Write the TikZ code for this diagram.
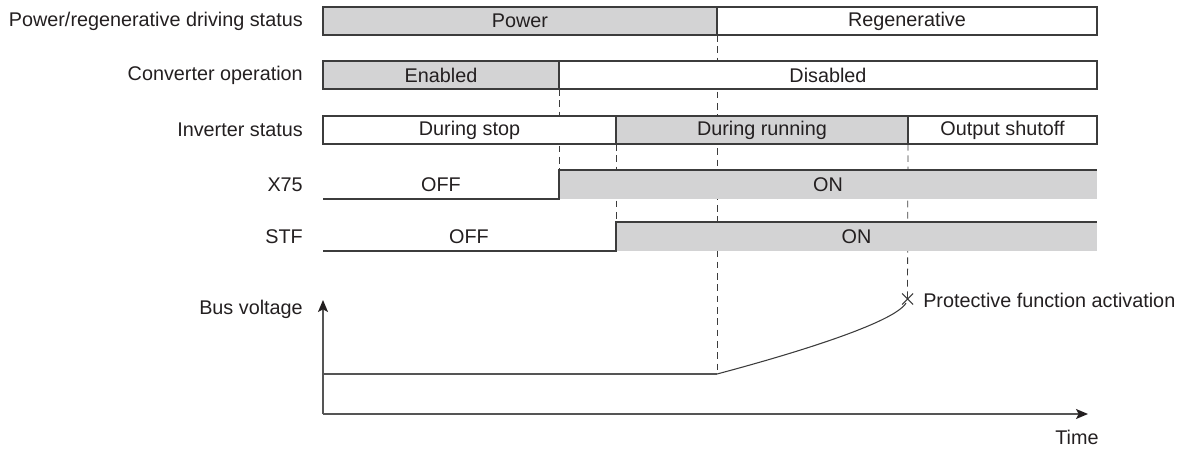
\documentclass[tikz,border=0pt]{standalone}
\usepackage{fontspec}
\setmainfont{Liberation Sans}
\usetikzlibrary{arrows.meta,backgrounds}
\definecolor{gfill}{RGB}{211,211,212}
\definecolor{linec}{RGB}{60,60,60}
\definecolor{txtc}{RGB}{35,31,32}
\definecolor{axc}{RGB}{85,85,85}
\begin{document}
\begin{tikzpicture}[x=0.75pt,y=-0.75pt,
  every node/.style={text=txtc,font=\fontsize{14.85}{17}\selectfont},
  seg/.style={draw=linec,line width=0.9pt,minimum height=21pt,inner sep=0pt,outer sep=0pt,anchor=west},
  sig/.style={fill=gfill,minimum height=21.75pt,inner sep=0pt,outer sep=0pt,anchor=west},
  rowlabel/.style={anchor=east,inner sep=0pt},
  sigline/.style={draw=linec,line width=0.9pt},
  guide/.style={draw=linec,line width=0.6pt,dash pattern=on 5pt off 3.5pt},
  axis/.style={draw=axc,line width=1pt,-{Stealth[length=9pt,width=7.5pt,inset=2pt,color=txtc,fill=txtc]}}]
\useasboundingbox (0,0) rectangle (1190,449);
% row labels
\node[rowlabel] (l1) at (303,21) {Power/regenerative driving status};
\node[rowlabel] (l2) at (303,75) {Converter operation};
\node[rowlabel] (l3) at (303,130) {Inverter status};
\node[rowlabel] (l4) at (303,185) {X75};
\node[rowlabel] (l5) at (303,237) {STF};
\node[rowlabel] (l6) at (303,309) {Bus voltage};
% row 1
\node[seg,fill=gfill,minimum width=394*0.75pt] (pow) at (323,21) {Power};
\node[seg,fill=white,minimum width=380*0.75pt] (reg) at (717,21) {Regenerative};
% row 2
\node[seg,fill=gfill,minimum width=236*0.75pt] (en) at (323,75) {Enabled};
\node[seg,fill=white,minimum width=538*0.75pt] (dis) at (559,75) {Disabled};
% row 3
\node[seg,fill=white,minimum width=293*0.75pt] (stop) at (323,130) {During stop};
\node[seg,fill=gfill,minimum width=292*0.75pt] (run) at (616,130) {During running};
\node[seg,fill=white,minimum width=189*0.75pt] (shut) at (908,130) {Output shutoff};
% X75
\coordinate (x75s) at (323,199);
\node[sig,minimum width=538*0.75pt] (x75on) at (559,184.5) {ON};
\node (x75off) at (441,185) {OFF};
\draw[sigline] (x75s) -- (x75on.south west) -- (x75on.north west) -- (x75on.north east);
% STF
\coordinate (stfs) at (323,251);
\node[sig,minimum width=481*0.75pt] (stfon) at (616,236.5) {ON};
\node (stfoff) at (469,237) {OFF};
\draw[sigline] (stfs) -- (stfon.south west) -- (stfon.north west) -- (stfon.north east);
% bus voltage
\coordinate (org) at (323,414);
\coordinate (ytip) at (323,300);
\coordinate (xtip) at (1088,414);
\coordinate (b0) at (323,374);
\coordinate (b1) at (717,374);
\coordinate (b2) at (906,303);
\coordinate (px) at (907.5,299);
\draw[axis] (org) -- (ytip);
\draw[axis] (org) -- (xtip);
\draw[draw=axc,line width=0.9pt] (b0) -- (b1);
\draw[draw=linec,line width=0.8pt] (b1) .. controls (800,352) and (895,322) .. (b2);
\draw[draw=linec,line width=0.8pt] (px) +(-5.5,-5.5) -- +(5.5,5.5) (px) +(-5.5,5.5) -- +(5.5,-5.5);
\node[anchor=west,inner sep=0pt] (prot) at (923,300) {Protective function activation};
\node (time) at (1077,437) {Time};
% guide lines
\begin{pgfonlayer}{background}
\draw[guide] (pow.south east) -- (b1);
\draw[guide] (en.south east) -- (x75on.north west);
\draw[guide] (stop.south east) -- (stfon.north west);
\draw[guide] (run.south east) -- (px);
\end{pgfonlayer}
\end{tikzpicture}
\end{document}
